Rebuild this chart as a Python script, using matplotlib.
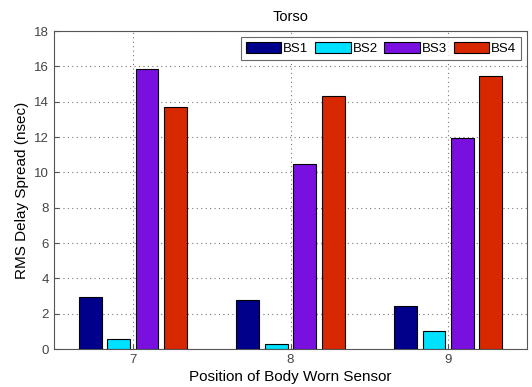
import numpy as np
import matplotlib
matplotlib.use('Agg')
import matplotlib.pyplot as plt

plt.rcParams['font.family'] = ['Liberation Sans', 'DejaVu Sans']

positions = [7, 8, 9]
series = ['BS1', 'BS2', 'BS3', 'BS4']
bs1 = [2.95, 2.75, 2.45]
bs2 = [0.57, 0.28, 1.02]
bs3 = [15.85, 10.45, 11.95]
bs4 = [13.72, 14.3, 15.45]
colors = ['#00008b', '#00e0ff', '#7a10e0', '#d82800']

fig = plt.figure(figsize=(5.32, 3.87), dpi=100)
ax = fig.add_axes([54/532, 1-349/387, 473/532, 318/387])

x = np.array(positions)
offsets = [-0.27, -0.09, 0.09, 0.27]
for vals, off, c, name in zip([bs1, bs2, bs3, bs4], offsets, colors, series):
    ax.bar(x + off, vals, width=0.145, color=c, edgecolor='black', linewidth=0.8, label=name, zorder=3)

ax.set_xlim(6.5, 9.5)
ax.set_ylim(0, 18)
ax.set_xticks(positions)
ax.set_yticks(range(0, 19, 2))
ax.grid(True, linestyle=(0, (1, 3)), color='#777777', linewidth=0.8, zorder=0)
ax.tick_params(direction='in', labelsize=9.5, colors='#555555', labelcolor='#444444')
for s in ax.spines.values():
    s.set_color('#555555')

ax.set_title('Torso', fontsize=10.5, pad=7)
ax.set_xlabel('Position of Body Worn Sensor', fontsize=11, labelpad=3)
ax.set_ylabel('RMS Delay Spread (nsec)', fontsize=11, labelpad=4)

leg = ax.legend(ncol=4, loc='upper right', fontsize=9.5, frameon=True, fancybox=False,
                edgecolor='#444444', handlelength=2.7, handleheight=1.0, handletextpad=0.15,
                columnspacing=0.5, borderaxespad=0.45, borderpad=0.35)
leg.get_frame().set_linewidth(0.8)

fig.savefig('out.png', dpi=100)
